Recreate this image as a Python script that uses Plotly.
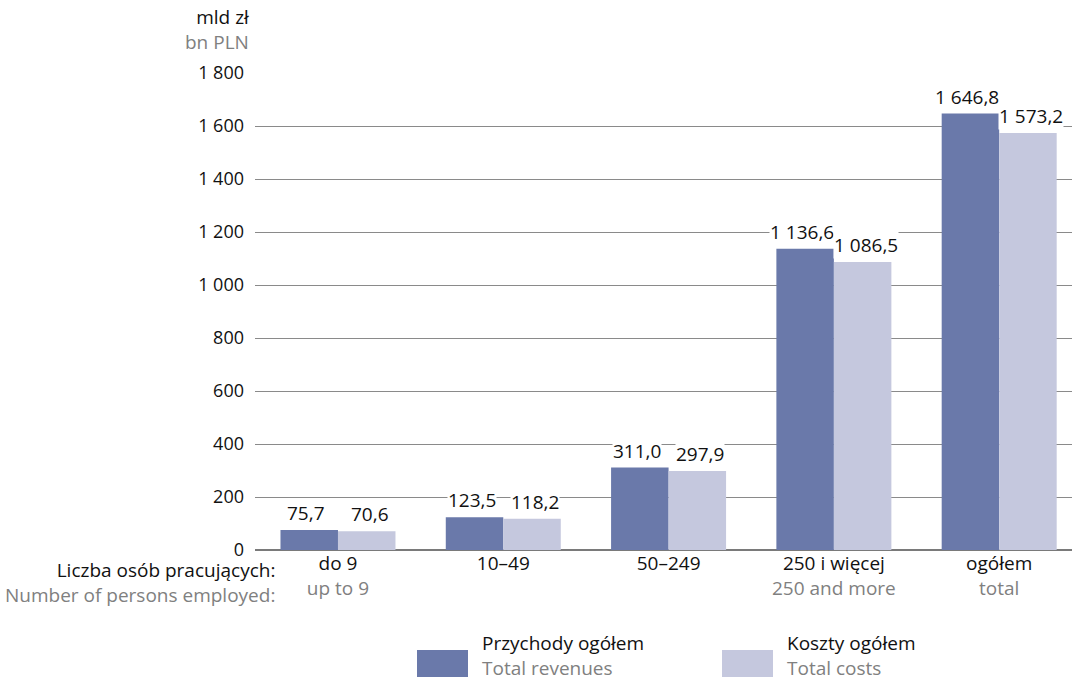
import plotly.graph_objects as go

categories = ["do 9", "10–49", "50–249", "250 i więcej", "ogółem"]
categories_en = ["up to 9", "", "", "250 and more", "total"]
revenues = [75.7, 123.5, 311.0, 1136.6, 1646.8]
costs = [70.6, 118.2, 297.9, 1086.5, 1573.2]
y_ticks = [0, 200, 400, 600, 800, 1000, 1200, 1400, 1600, 1800]

FONT = "Open Sans"
FS = 19
FSN = 19
FST = 18
DARK = "#6a79aa"
LIGHT = "#c5c8de"
GRAY = "#808080"
BLACK = "#111111"


def fmt(v, dec=1):
    s = f"{v:,.{dec}f}"
    return s.replace(",", " ").replace(".", ",")


ticktext = []
for pl, en in zip(categories, categories_en):
    ticktext.append("%s<br><span style='color:%s'>%s</span>" % (pl, GRAY, en if en else "&nbsp;"))

fig = go.Figure()
fig.add_trace(go.Bar(x=categories, y=revenues, name="Przychody ogółem", marker_color=DARK,
                     marker_line_width=0, showlegend=False))
fig.add_trace(go.Bar(x=categories, y=costs, name="Koszty ogółem", marker_color=LIGHT,
                     marker_line_width=0, showlegend=False))

W, H = 1072, 683
ml, mr, mt, mb = 255, 0, 73, 133
plot_w = W - ml - mr
ph = H - mt - mb
cat_px = 165.3
x0r = -0.502
x1r = x0r + plot_w / cat_px
bargap = 1 - 115.0 / cat_px
off = 115.0 / 4


def px_x(x):
    return (x - ml) / plot_w


def px_y(y):
    return (mt + ph - y) / ph


annotations = []
for c, r, k in zip(categories, revenues, costs):
    for v, s in ((r, -off - 3), (k, off + 3)):
        annotations.append(dict(x=c, y=v, xref="x", yref="y", text=fmt(v), showarrow=False,
                                xshift=s, yshift=3, yanchor="bottom", bgcolor="white",
                                borderpad=0, font=dict(family=FONT, size=FSN, color=BLACK)))


def label(text, x, y, anchor, color=BLACK, size=FS, yanchor="middle", align="left"):
    annotations.append(dict(xref="paper", yref="paper", x=px_x(x), y=px_y(y), xanchor=anchor,
                            yanchor=yanchor, align=align, showarrow=False, text=text,
                            font=dict(family=FONT, size=size, color=color)))


label("mld zł<br><span style='color:%s'>bn PLN</span>" % GRAY, 251, 57, "right",
      yanchor="bottom", align="right")
label("Liczba osób pracujących:<br><span style='color:%s'>Number of persons employed:</span>" % GRAY,
      277, 582, "right", align="right")

shapes = []
legend_items = [("Przychody ogółem", "Total revenues", DARK, 417),
                ("Koszty ogółem", "Total costs", LIGHT, 722)]
for pl, en, col, x0 in legend_items:
    shapes.append(dict(type="rect", xref="paper", yref="paper", x0=px_x(x0), x1=px_x(x0 + 51),
                       y0=px_y(677), y1=px_y(650), fillcolor=col, line_width=0))
    label("%s<br><span style='color:%s'>%s</span>" % (pl, GRAY, en), x0 + 63, 683, "left",
          yanchor="bottom")

fig.update_layout(
    width=W, height=H, autosize=False,
    margin=dict(l=ml, r=mr, t=mt, b=mb, pad=0),
    paper_bgcolor="white", plot_bgcolor="white",
    barmode="group", bargap=bargap, bargroupgap=0,
    font=dict(family=FONT, size=FS, color=BLACK),
    annotations=annotations, shapes=shapes,
    showlegend=False,
)
fig.update_xaxes(tickvals=categories, ticktext=ticktext, showgrid=False, ticks="",
                 showline=False, range=[x0r, x1r],
                 tickfont=dict(family=FONT, size=FS, color=BLACK))
fig.update_yaxes(range=[0, 1800], tickvals=y_ticks, ticktext=[fmt(v, 0) for v in y_ticks],
                 showgrid=True, gridcolor="#8a8a8a", gridwidth=1, zeroline=True,
                 zerolinecolor="#7a7a7a", zerolinewidth=2, ticks="", ticklabelstandoff=10,
                 tickfont=dict(family=FONT, size=FST, color=BLACK))

fig.write_html("out.html", config={"displayModeBar": False},
               post_script="document.body.style.margin='0';document.body.style.overflow='hidden';")
